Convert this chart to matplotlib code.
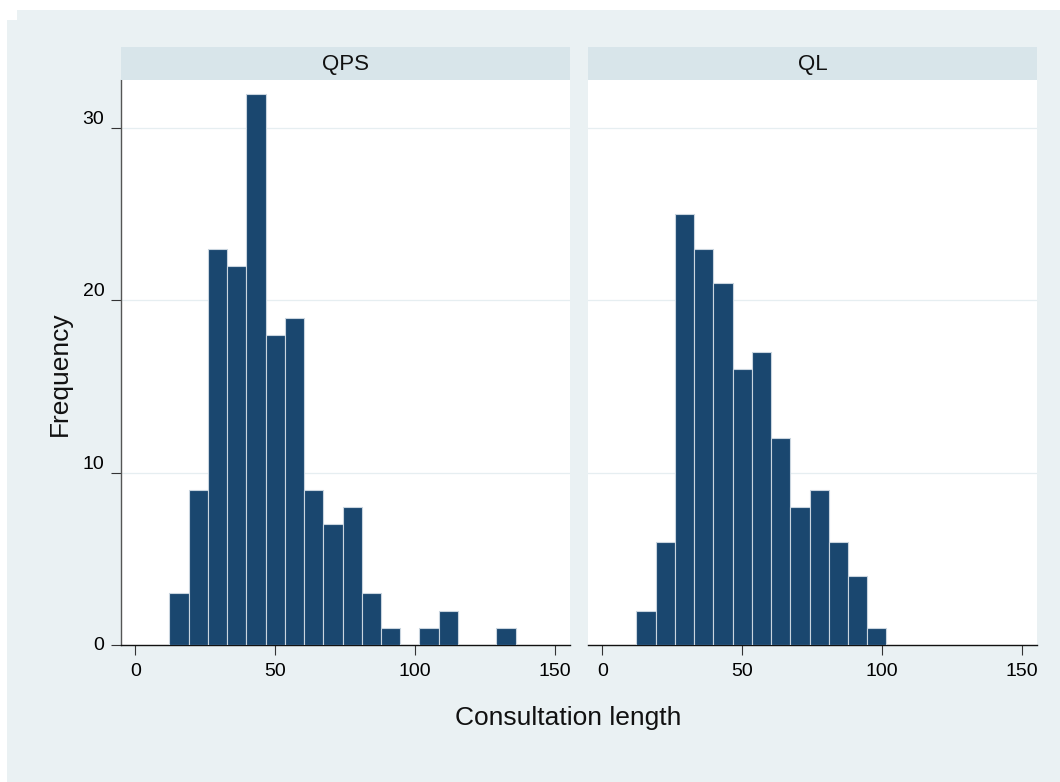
import matplotlib
matplotlib.use("Agg")
import matplotlib.pyplot as plt
from matplotlib.patches import Rectangle

plt.rcParams['font.family'] = ['Liberation Sans', 'DejaVu Sans']

# histogram counts per bin (common bins for both groups)
bin_start = 12.2
bin_width = 6.87
qps_counts = [3, 9, 23, 22, 32, 18, 19, 9, 7, 8, 3, 1, 0, 1, 2, 0, 0, 1]
ql_counts = [2, 6, 25, 23, 21, 16, 17, 12, 8, 9, 6, 4, 1]
groups = ["QPS", "QL"]
x_ticks = [0, 50, 100, 150]
y_ticks = [0, 10, 20, 30]

BG = '#EAF1F3'
STRIP = '#D8E5EA'
BAR = '#1A476F'

W, H = 1060, 782
fig = plt.figure(figsize=(W / 100, H / 100), dpi=100)
fig.patch.set_facecolor('white')

# graph region background
fig.patches.append(Rectangle((7 / W, 0), 1 - 7 / W, 1 - 20 / H,
                             transform=fig.transFigure, facecolor=BG,
                             edgecolor='none', zorder=-10))
fig.patches.append(Rectangle((17 / W, 1 - 20 / H), 1 - 17 / W, 10 / H,
                             transform=fig.transFigure, facecolor=BG,
                             edgecolor='none', zorder=-10))


def px_box(x0, y0, x1, y1):
    return [x0 / W, 1 - y1 / H, (x1 - x0) / W, (y1 - y0) / H]


panels = [(121, 570), (588, 1037)]
data = [qps_counts, ql_counts]

for i, ((x0, x1), counts, name) in enumerate(zip(panels, data, groups)):
    ax = fig.add_axes(px_box(x0, 80, x1, 645))
    ax.set_facecolor('white')
    edges = [bin_start + k * bin_width for k in range(len(counts))]
    ax.bar(edges, counts, width=bin_width, align='edge', color=BAR,
           edgecolor='#C9D5DF', linewidth=0.8, zorder=3)
    ax.set_xlim(-5.1, 155.3)
    ax.set_ylim(0, 32.8)
    for yv in y_ticks[1:]:
        ax.axhline(yv, color='#E6EEF1', linewidth=0.9, zorder=1)

    for s in ['top', 'right']:
        ax.spines[s].set_visible(False)
    ax.spines['bottom'].set_color('#111111')
    ax.spines['bottom'].set_linewidth(1.0)

    ax.set_xticks(x_ticks)
    ax.set_xticklabels([str(t) for t in x_ticks])
    ax.tick_params(axis='x', length=7, width=0.8, color='#333333',
                   labelsize=14, pad=6)

    if i == 0:
        ax.spines['left'].set_color('#555555')
        ax.spines['left'].set_linewidth(1.0)
        ax.set_yticks(y_ticks)
        ax.set_yticklabels([str(t) for t in y_ticks])
        ax.tick_params(axis='y', length=7, width=0.8, color='#333333',
                       labelsize=14, pad=5)
        for lab, t in zip(ax.get_yticklabels(), y_ticks):
            lab.set_va('center' if t == 0 else 'bottom')
    else:
        ax.spines['left'].set_visible(False)
        ax.set_yticks([])

    # group strip
    sax = fig.add_axes(px_box(x0, 47, x1, 80))
    sax.set_facecolor(STRIP)
    sax.set_xticks([])
    sax.set_yticks([])
    for s in sax.spines.values():
        s.set_visible(False)
    sax.text(0.5, 0.47, name, ha='center', va='center', fontsize=16,
             transform=sax.transAxes, color='#111111')

fig.text(60 / W, 1 - 374 / H, 'Frequency', rotation=90, ha='center',
         va='center', fontsize=19, color='#111111')
fig.text(568 / W, 1 - 718 / H, 'Consultation length', ha='center',
         va='center', fontsize=19, color='#111111')

fig.savefig('out.png', dpi=100)
